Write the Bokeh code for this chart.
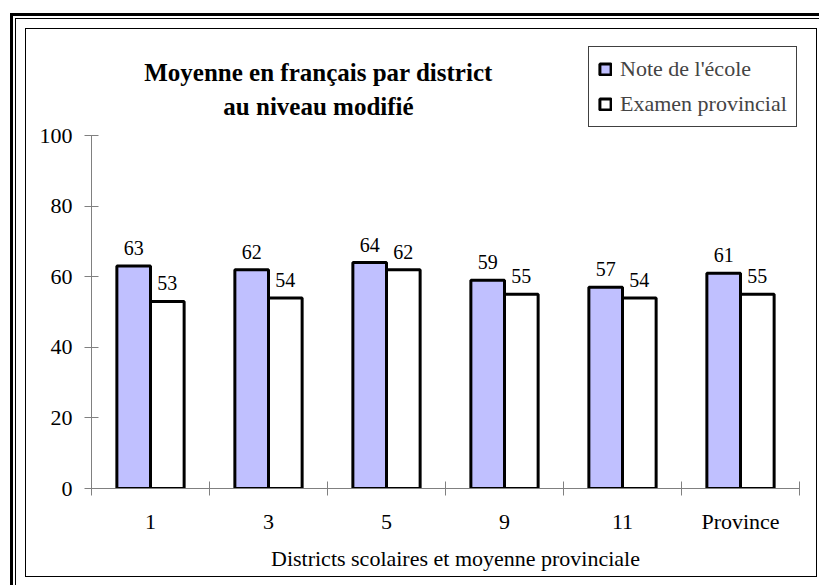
from bokeh.plotting import figure
from bokeh.models import ColumnDataSource, Range1d, FixedTicker, Label
from bokeh.embed import file_html
from bokeh.resources import INLINE
from bokeh.core.properties import value

# ---- data ----
categories = ["1", "3", "5", "9", "11", "Province"]
ecole = [63, 62, 64, 59, 57, 61]
examen = [53, 54, 62, 55, 54, 55]
y_ticks = [0, 20, 40, 60, 80, 100]
series_names = ["Note de l'école", "Examen provincial"]
title_lines = ["Moyenne en français par district", "au niveau modifié"]
x_title = "Districts scolaires et moyenne provinciale"

FONT = "Liberation Serif"
BLUE = "#C0C0FF"
AXIS = "#808080"
TXT = "22px"

n = len(categories)
idx = list(range(n))
bw = 0.285
src = ColumnDataSource(dict(
    xb=[i + 0.5 - bw / 2 for i in idx],
    xw=[i + 0.5 + bw / 2 for i in idx],
    ecole=ecole, examen=examen,
    lab_e=[str(v) for v in ecole],
    lab_x=[str(v) for v in examen],
))

# frame: x 0..n over 708 px (+20 px spare on the right), y 0..100 over 353 px
PX_X = 708 / n
PX_Y = 353 / 100
p = figure(frame_width=728, frame_height=488,
           min_border_left=91, min_border_right=0,
           min_border_top=0, min_border_bottom=97,
           x_range=Range1d(0, n + 20 / PX_X), y_range=Range1d(0, 488 / PX_Y),
           output_backend="svg", toolbar_location=None)
p.outline_line_color = None
p.xgrid.visible = False
p.ygrid.visible = False
p.background_fill_alpha = 0
p.border_fill_alpha = 0

# decorative double frame drawn as CSS background behind the transparent canvas
def bar_css(x, y, w, h):
    return f"linear-gradient(#000,#000) {x}px {y}px / {w}px {h}px no-repeat"

layers = [
    bar_css(10, 13, 3, 572), bar_css(10, 13, 809, 3),     # thick outer
    bar_css(15, 18, 1, 567), bar_css(15, 18, 804, 1),     # thin outer
    bar_css(25, 28, 1, 549), bar_css(25, 28, 792, 1),     # inner box
    bar_css(816, 28, 1, 549), bar_css(25, 576, 792, 1),
]
p.styles = {"background": ", ".join(layers) + ", #ffffff"}

p.vbar(x="xb", top="ecole", bottom=0, width=bw, fill_color=BLUE,
       line_color="black", line_width=3, source=src, legend_label=series_names[0])
p.vbar(x="xw", top="examen", bottom=0, width=bw, fill_color="white",
       line_color="black", line_width=3, source=src, legend_label=series_names[1])

for xcol, ycol, tcol in (("xb", "ecole", "lab_e"), ("xw", "examen", "lab_x")):
    p.text(x=xcol, y=ycol, text=tcol, source=src, text_align="center",
           text_baseline="alphabetic", y_offset=-18,
           text_font=value(FONT), text_font_size="20px", text_color="black")

# x axis: labels at category centres, ticks at category boundaries
xa = p.xaxis[0]
xa.ticker = FixedTicker(ticks=[i + 0.5 for i in idx], minor_ticks=list(range(n + 1)))
xa.major_label_overrides = {i + 0.5: c for i, c in zip(idx, categories)}
xa.bounds = (0, n)
xa.major_tick_in = 0
xa.major_tick_out = 0
xa.minor_tick_in = 7
xa.minor_tick_out = 7
xa.minor_tick_line_color = AXIS
xa.axis_line_color = AXIS
xa.major_label_text_font = FONT
xa.major_label_text_font_size = TXT
xa.major_label_text_color = "black"
xa.major_label_standoff = 13
xa.axis_label = x_title
xa.axis_label_text_font = FONT
xa.axis_label_text_font_style = "normal"
xa.axis_label_text_font_size = TXT
xa.axis_label_text_color = "black"
xa.axis_label_standoff = 9

ya = p.yaxis[0]
ya.ticker = FixedTicker(ticks=y_ticks)
ya.bounds = (0, 100)
ya.major_tick_in = 7
ya.major_tick_out = 7
ya.minor_tick_line_color = None
ya.major_tick_line_color = AXIS
ya.axis_line_color = AXIS
ya.major_label_text_font = FONT
ya.major_label_text_font_size = TXT
ya.major_label_text_color = "black"
ya.major_label_standoff = 12

leg = p.legend[0]
leg.location = (497, 361)
leg.border_line_color = "#404040"
leg.border_line_width = 1
leg.border_line_alpha = 1
leg.background_fill_color = "white"
leg.background_fill_alpha = 1
leg.label_text_font = FONT
leg.label_text_font_size = TXT
leg.glyph_width = 14
leg.glyph_height = 14
leg.padding = 9
leg.margin = 0
leg.spacing = 9
leg.label_standoff = 8

# title (two centred lines)
for txt, yy in ((title_lines[0], 416), (title_lines[1], 382)):
    p.add_layout(Label(x=227, y=yy, x_units="screen", y_units="screen", text=txt,
                       text_align="center", text_baseline="alphabetic",
                       text_font=FONT, text_font_style="bold",
                       text_font_size="25px", text_color="black"))

open("out.html", "w").write(file_html(p, INLINE))
